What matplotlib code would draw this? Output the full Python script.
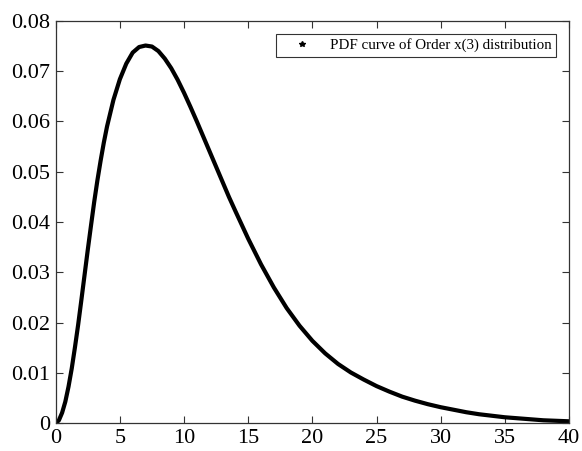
import matplotlib
matplotlib.use("Agg")
import matplotlib.pyplot as plt
from matplotlib.lines import Line2D

# values
x_vals = [0, 0.25, 0.5, 0.75, 1.0, 1.25, 1.5, 1.75, 2.0, 2.25, 2.5, 2.75, 3.0,
          3.25, 3.5, 3.75, 4.0, 4.5, 5.0, 5.5, 6.0, 6.5, 7.0, 7.5, 8.0, 8.5, 9.0,
          9.5, 10.0, 10.5, 11.0, 11.5, 12.0, 12.5, 13.0, 13.5, 14, 15, 16, 17, 18,
          19, 20, 21, 22, 23, 24, 25, 26, 27, 28, 29, 30, 31, 32, 33, 34, 35, 36,
          37, 38, 39, 40]
pdf_vals = [0, 0.0006, 0.0021, 0.0043, 0.0073, 0.0109, 0.0151, 0.0196, 0.0245,
            0.0295, 0.0345, 0.0393, 0.0440, 0.0483, 0.0522, 0.0558, 0.0590,
            0.0643, 0.0684, 0.0715, 0.0737, 0.0748, 0.0751, 0.0749, 0.0740,
            0.0725, 0.0706, 0.0683, 0.0657, 0.0629, 0.0600, 0.0570, 0.0540,
            0.0510, 0.0480, 0.0450, 0.0422, 0.0367, 0.0316, 0.0270, 0.0229,
            0.0194, 0.0164, 0.0139, 0.0118, 0.0101, 0.0087, 0.0074, 0.0063,
            0.0053, 0.0045, 0.0038, 0.0032, 0.0027, 0.0022, 0.0018, 0.0015,
            0.0012, 0.0010, 0.0008, 0.0006, 0.0005, 0.0004]
x_ticks = [0, 5, 10, 15, 20, 25, 30, 35, 40]
y_ticks = [0, 0.01, 0.02, 0.03, 0.04, 0.05, 0.06, 0.07, 0.08]
legend_label = 'PDF curve of Order x(3) distribution'

plt.rcParams['font.family'] = ['Liberation Serif', 'DejaVu Serif']

fig = plt.figure(figsize=(5.82, 4.51), dpi=100)
ax = fig.add_axes([0.0957, 0.0614, 0.882, 0.8923])

ax.plot(x_vals, pdf_vals, color='black', linewidth=3.0,
        solid_capstyle='round', solid_joinstyle='round')

ax.set_xlim(0, 40)
ax.set_ylim(0, 0.08)
ax.set_xticks(x_ticks)
ax.set_yticks(y_ticks)
ax.set_xticklabels([str(t) for t in x_ticks])
ax.set_yticklabels(['0'] + ['%.2f' % t for t in y_ticks[1:]])

ax.tick_params(direction='in', length=5, width=0.8, labelsize=16, color='#333333',
               top=True, right=True, pad=4)
for s in ax.spines.values():
    s.set_color('#333333')
    s.set_linewidth(0.9)

# MATLAB-style legend entry: marker only
handle = Line2D([], [], color='black', marker='*', linestyle='none', markersize=4)
leg = ax.legend([handle], [legend_label], loc='upper right', fontsize=10.8,
                frameon=True, fancybox=False, edgecolor='black',
                borderaxespad=0.85, handlelength=2.8, handletextpad=0.5,
                borderpad=0.3)
leg.get_frame().set_linewidth(0.8)

fig.savefig('out.png', dpi=100)
